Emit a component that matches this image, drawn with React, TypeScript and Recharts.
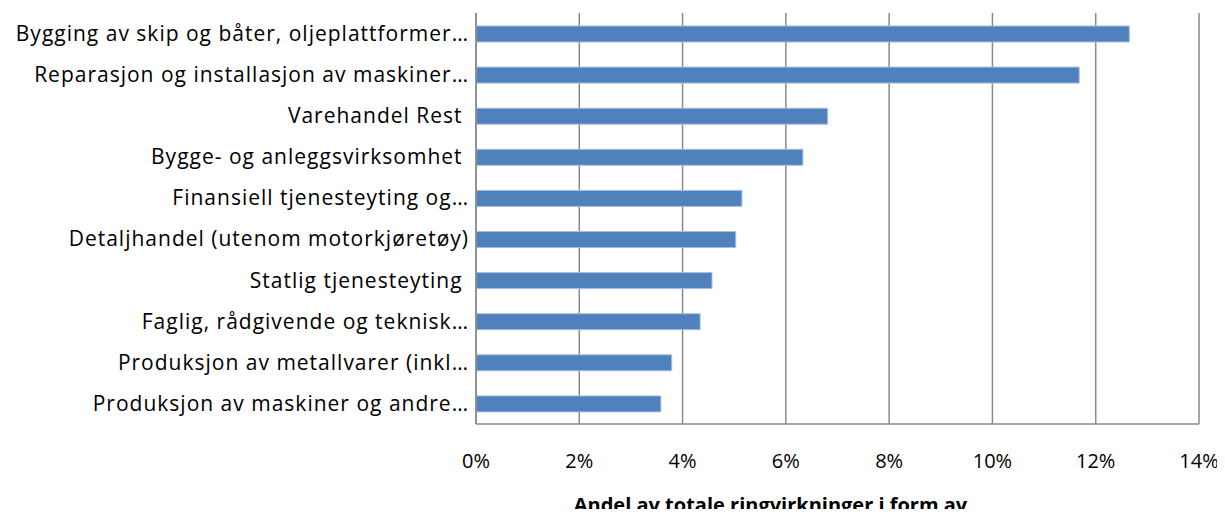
import React from 'react';
import { BarChart, Bar, XAxis, YAxis, CartesianGrid } from 'recharts';

const categories = [
  'Bygging av skip og båter, oljeplattformer…',
  'Reparasjon og installasjon av maskiner…',
  'Varehandel Rest ',
  'Bygge- og anleggsvirksomhet ',
  'Finansiell tjenesteyting og…',
  'Detaljhandel (utenom motorkjøretøy)',
  'Statlig tjenesteyting ',
  'Faglig, rådgivende og teknisk…',
  'Produksjon av metallvarer (inkl…',
  'Produksjon av maskiner og andre…',
];

const shares = [12.65, 11.68, 6.81, 6.33, 5.15, 5.03, 4.57, 4.34, 3.79, 3.58];

const xTicks = [0, 2, 4, 6, 8, 10, 12, 14];

const axisTitle = 'Andel av totale ringvirkninger i form av';

const FONT = '"Open Sans", sans-serif';

const data = categories.map((name, i) => ({ name, value: shares[i] }));

function CategoryTick(props: any) {
  const { x, y, payload } = props;
  return (
    <text
      x={x}
      y={y}
      dy="0.35em"
      textAnchor="end"
      fill="#000"
      fontSize={21}
      letterSpacing={1}
      fontFamily={FONT}
      style={{ whiteSpace: 'pre' }}
    >
      {payload.value}
    </text>
  );
}

const App: React.FC = () => {
  return (
    <div style={{ margin: -8, background: '#fff', width: 1225, height: 517 }}>
      <BarChart
        width={1225}
        height={517}
        data={data}
        layout="vertical"
        margin={{ top: 13, right: 26, left: 0, bottom: 63 }}
      >
        <CartesianGrid horizontal={false} stroke="#8a8a8a" strokeWidth={1.5} />
        <XAxis
          type="number"
          domain={[0, 14]}
          ticks={xTicks}
          tickFormatter={v => `${v}%`}
          tickLine={false}
          tickSize={0}
          tickMargin={30}
          axisLine={{ stroke: '#8a8a8a', strokeWidth: 1.5 }}
          tick={{ fontSize: 20, fill: '#000', fontFamily: FONT }}
          label={{
            value: axisTitle,
            content: ({ viewBox }: any) => (
              <text
                x={viewBox.x + viewBox.width / 2 - 67}
                y={viewBox.y + 88}
                textAnchor="middle"
                fontSize={20}
                fontWeight="bold"
                fontFamily={FONT}
                fill="#000"
              >
                {axisTitle}
              </text>
            ),
          }}
        />
        <YAxis
          type="category"
          dataKey="name"
          width={476}
          tickLine={false}
          tickSize={0}
          tickMargin={7}
          axisLine={{ stroke: '#8a8a8a', strokeWidth: 1.5 }}
          tick={<CategoryTick />}
          interval={0}
        />
        <Bar
          dataKey="value"
          fill="#4F81BD"
          stroke="#a7bfdf"
          strokeWidth={1}
          barSize={16}
          isAnimationActive={false}
        />
      </BarChart>
    </div>
  );
};

export default App;
